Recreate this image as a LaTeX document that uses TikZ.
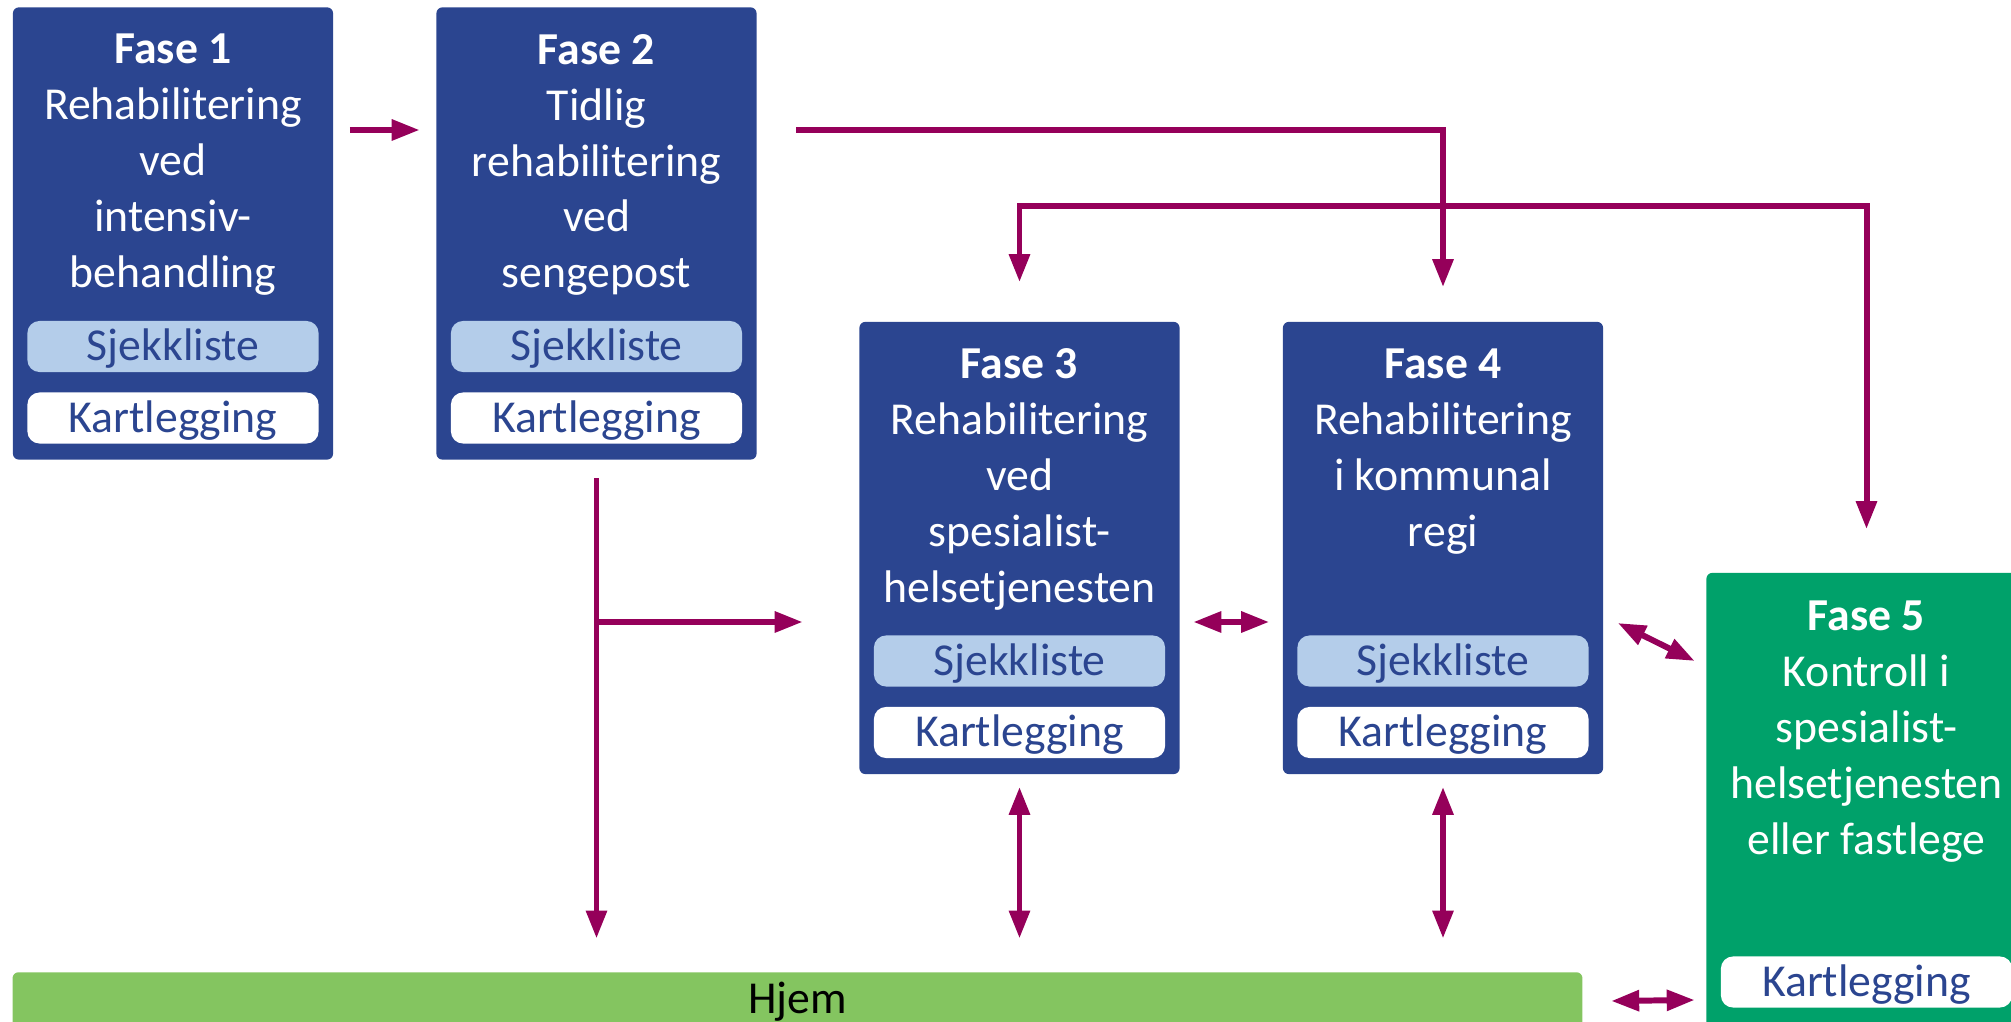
\documentclass[tikz,border=0pt]{standalone}
\usepackage{fontspec}
\setmainfont{Carlito}
\usetikzlibrary{arrows.meta}
\definecolor{navy}{HTML}{2B4590}
\definecolor{lightnavy}{HTML}{B4CDEA}
\definecolor{fasegreen}{HTML}{00A16A}
\definecolor{hjemgreen}{HTML}{84C560}
\definecolor{plum}{HTML}{95005A}

\begin{document}
\begin{tikzpicture}[x=0.01cm,y=-0.01cm,font=\fontsize{13}{15.9}\selectfont,
>={Triangle[length=2.8mm,width=2mm]},
bluestyle/.style={rectangle,fill=navy,rounded corners=0.6mm,minimum width=3.2cm,minimum height=4.52cm},
titlestyle/.style={anchor=north,align=center,text=white,inner sep=0},
pillstyle/.style={rectangle,rounded corners=1.2mm,minimum width=2.91cm,minimum height=0.51cm,inner sep=0,text height=0.36cm,text depth=0.08cm,text=navy},
arrowstyle/.style={draw=plum,line width=1.7pt}]
\useasboundingbox (0,0) rectangle (2011,1022);
\clip (0,0) rectangle (2011,1022);

\foreach \n/\x/\y/\txt in {1/173/233.5/{Rehabilitering\\ved\\intensiv-\\behandling},
 2/596.5/233.5/{Tidlig\\rehabilitering\\ved\\sengepost},
 3/1019.5/548/{Rehabilitering\\ved\\spesialist-\\helsetjenesten},
 4/1443/548/{Rehabilitering\\i kommunal\\regi}}
{\node[bluestyle](f\n) at (\x,\y){};
\node[titlestyle](t\n) at (\x,\y-200){\textbf{Fase \n}\\\txt};
\node[pillstyle,fill=lightnavy](s\n) at (\x,\y+113){Sjekkliste};
\node[pillstyle,fill=white](k\n) at (\x,\y+184.5){Kartlegging};
}

\node[bluestyle,fill=fasegreen,minimum height=4.8cm](f5) at (1866.5,813){};
\node[titlestyle](t5) at (1866.5,600){\textbf{Fase 5}\\Kontroll i\\spesialist-\\helsetjenesten\\eller fastlege};
\node[pillstyle,fill=white](k5) at (1866.5,982){Kartlegging};

\node[rectangle,fill=hjemgreen,rounded corners=0.6mm,minimum width=15.69cm,minimum height=0.8cm,
 text height=0.3cm,text depth=0.3cm](hjem) at (797.5,1014){Hjem};

\coordinate (split) at (596.5,622);
\draw[arrowstyle,->] ([shift={(16,-103.5)}]f1.east) -- ([shift={(-16,-103.5)}]f2.west);
\draw[arrowstyle,->] ([shift={(39,-103.5)}]f2.east) -| ([shift={(0,-34)}]f4.north);
\draw[arrowstyle,<->] ([shift={(0,-39)}]f3.north) -- ++(0,-76) -| ([shift={(0,-43)}]f5.north);
\draw[arrowstyle,->,shorten >=0.33cm] ([shift={(0,18)}]f2.south) -- (f2.south |- hjem.north);
\draw[arrowstyle,->] (split) -- ([shift={(-56,74)}]f3.west);
\draw[arrowstyle,<->] ([shift={(13,74)}]f3.east) -- ([shift={(-13,74)}]f4.west);
\foreach \n in {3,4}
 \draw[arrowstyle,<->,shorten <=0.12cm,shorten >=0.33cm] (f\n.south) -- (f\n.south |- hjem.north);
\draw[arrowstyle,<->] ([shift={(14,75)}]f4.east) -- ([shift={(-11,-152)}]f5.west);
\draw[arrowstyle,<->] ([shift={(28,-13)}]hjem.east) -- ([shift={(-11,187)}]f5.west);

\end{tikzpicture}
\end{document}
